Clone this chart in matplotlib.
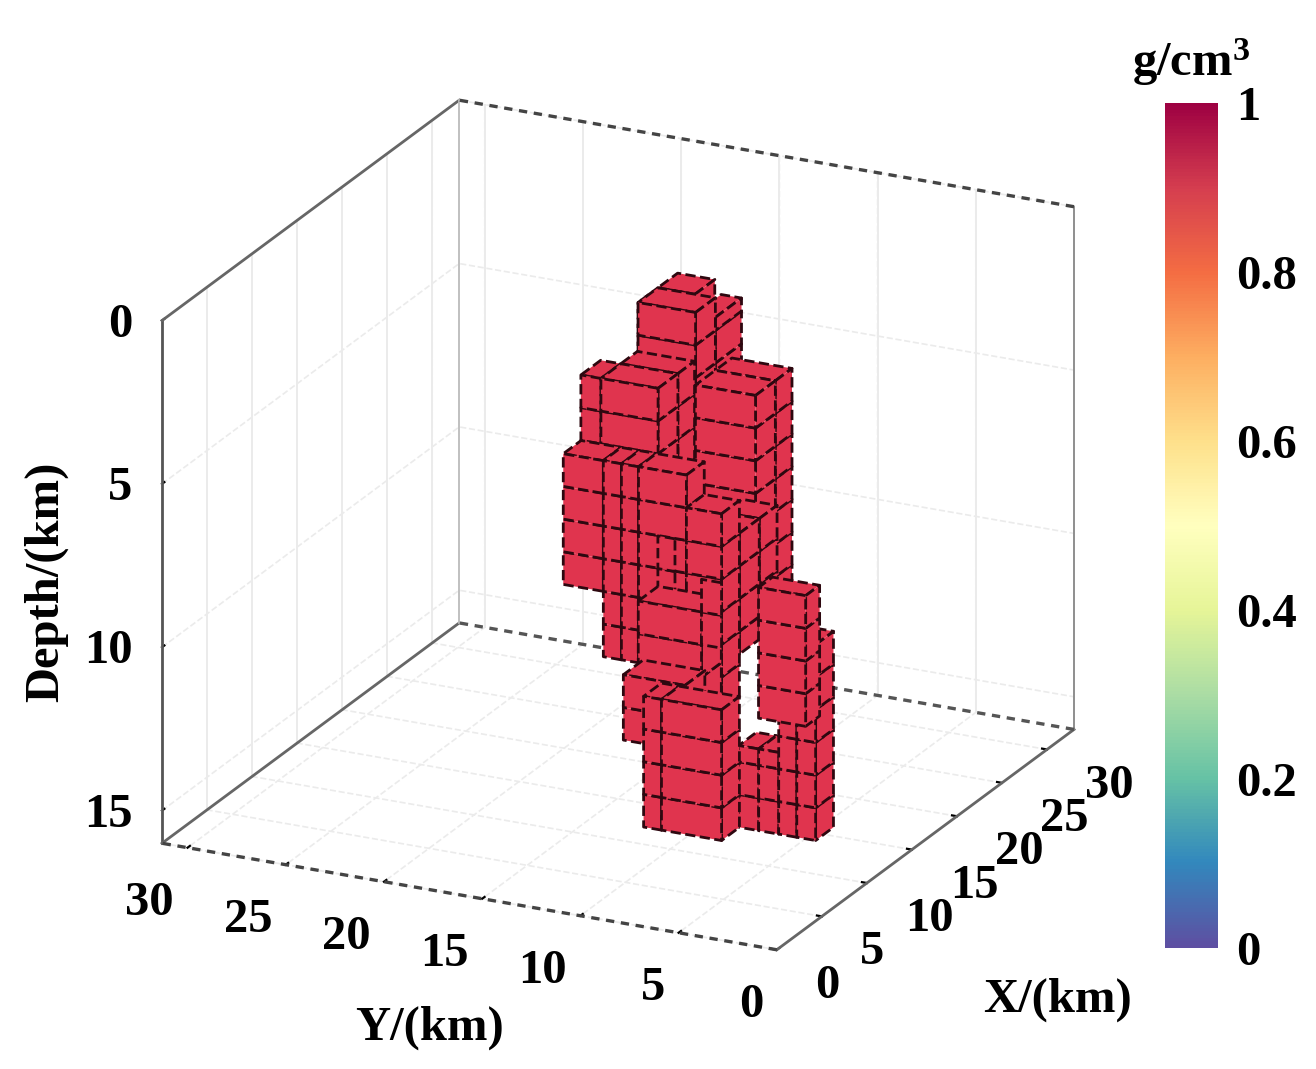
import numpy as np
import matplotlib
matplotlib.use('Agg')
import matplotlib.pyplot as plt
from matplotlib.cm import ScalarMappable
from matplotlib.colors import Normalize
from mpl_toolkits.mplot3d import proj3d
from mpl_toolkits.mplot3d.art3d import Poly3DCollection

plt.rcParams['font.family'] = ['Liberation Serif', 'DejaVu Serif']
plt.rcParams['font.weight'] = 'bold'
plt.rcParams['mathtext.fontset'] = 'custom'
plt.rcParams['mathtext.rm'] = 'Liberation Serif:bold'

x_ticks = [0, 5, 10, 15, 20, 25, 30]
y_ticks = [0, 5, 10, 15, 20, 25, 30]
depth_ticks = [0, 5, 10, 15]
cbar_ticks = [0, 0.2, 0.4, 0.6, 0.8, 1]
cbar_labels = ['0', '0.2', '0.4', '0.6', '0.8', '1']

# bloques del cuerpo, del fondo hacia adelante (orden de dibujo)
block_x0 = [12.2, 14.4, 12.2, 14.1, 14.1, 19.25, 14.08, 14.08, 14.08, 14.08, 16.28, 14.08, 12.1, 12.1, 12.1, 12.1, 12.1, 12.05, 11.66, 11.66, 14.3, 12.1, 12.1, 19.8]
block_x1 = [16.6, 17.3, 14.4, 16.3, 18.15, 23.3, 16.06, 16.06, 16.06, 16.06, 18.26, 16.28, 14.08, 14.08, 14.08, 14.08, 14.08, 12.1, 13.86, 12.3, 16.5, 14.08, 14.08, 21.35]
block_y0 = [10.77, 9.73, 9.73, 15.42, 12.51, 9.91, 7.38, 6.36, 5.44, 4.48, 8.36, 8.36, 14.38, 13.46, 12.59, 10.15, 8.36, 10.71, 9.18, 8.16, 11.23, 11.42, 8.36, 7.61]
block_y1 = [12.66, 10.77, 12.66, 16.44, 15.42, 12.97, 8.4, 7.38, 6.36, 5.44, 10.15, 10.15, 16.42, 14.38, 13.46, 12.59, 10.15, 11.58, 12.4, 9.18, 14.37, 12.33, 11.42, 10.01]
block_top = [0, 0.6, 0, 3, 3, 4, 13.5, 13.5, 10, 10, 7, 7, 5, 5, 5, 5, 6, 7, 9, 8, 12, 12, 12, 10]
block_bot = [4, 4, 4, 7, 7, 11, 16, 16, 16, 16, 10, 10.7, 9, 11, 11, 12, 12, 9, 12, 10, 14, 16, 16, 14]

color_cuerpo = '#E0344E'
color_borde = '#2E0810'


def cortes(a, b, paso):
    # cortes de la grilla dentro de un bloque
    return np.append(np.arange(a, b - 0.5 * paso, paso), b)


def caras_bloque(x0, x1, y0, y1, top, bot):
    # solo las tres caras que se ven desde esta camara
    xs = cortes(x0, x1, 2.2)
    zs = np.append(np.arange(top, np.floor(bot - 0.01) + 0.001, 1.0), bot)
    if top != np.floor(top):
        zs = np.append([top], np.arange(np.ceil(top), bot + 0.001, 1.0))
    caras = []
    for k in range(len(xs) - 1):
        caras.append([(xs[k], y0, top), (xs[k + 1], y0, top), (xs[k + 1], y1, top), (xs[k], y1, top)])
    for j in range(len(zs) - 1):
        caras.append([(x0, y0, zs[j]), (x0, y1, zs[j]), (x0, y1, zs[j + 1]), (x0, y0, zs[j + 1])])
        for k in range(len(xs) - 1):
            caras.append([(xs[k], y0, zs[j]), (xs[k + 1], y0, zs[j]), (xs[k + 1], y0, zs[j + 1]), (xs[k], y0, zs[j + 1])])
    return caras


def etiqueta(ax, x, y, z, texto, ha):
    # texto 2D puesto donde cae el punto 3D
    px, py, _ = proj3d.proj_transform(x, y, z, ax.get_proj())
    ax.text2D(px, py, texto, transform=ax.transData, fontsize=35, ha=ha, va='center')


fig = plt.figure(figsize=(13.16, 10.69), dpi=100)
L = 1000.0
ax = fig.add_axes([104.5 / 1316, 30.5 / 1069, L / 1316, L / 1069], projection='3d', computed_zorder=False)
ax.set_proj_type('ortho')
ax.view_init(elev=21, azim=-154.2)
ax.set_box_aspect((683, 683, 560), zoom=1.0837)
ax.set_xlim(0, 33, view_margin=0)
ax.set_ylim(0, 31.3, view_margin=0)
ax.set_zlim(16, 0, view_margin=0)

ax.set_xticks(x_ticks)
ax.set_yticks(y_ticks)
ax.set_zticks(depth_ticks)
ax.tick_params(axis='both', labelsize=35)
ax.yaxis.set_tick_params(pad=9)
plt.setp(ax.get_yticklabels(), ha='right')
ax.set_xticklabels([])
ax.set_zticklabels([])

# estas etiquetas van a mano, las nativas no quedaban bien alineadas
for t in x_ticks:
    etiqueta(ax, t, -1.95, 16.9, str(t), 'left')
for t in depth_ticks:
    etiqueta(ax, 0, 32.8, t + 0.28, str(t), 'right')

for axis in (ax.xaxis, ax.yaxis, ax.zaxis):
    axis.set_pane_color((1, 1, 1, 0))
    axis.pane.set_edgecolor((1, 1, 1, 0))
    axis.line.set_color((1, 1, 1, 0))
    axis._axinfo['grid'].update(color='#EBEBEB', linewidth=1.2, linestyle='--')
    axis._axinfo['tick'].update(inward_factor=0.0, outward_factor=0.1, color='#333333', linewidth={True: 1.6, False: 1.6})

# marco de la caja
x_a, x_b = ax.get_xlim()
y_a, y_b = ax.get_ylim()
for t in x_ticks:
    ax.plot([t, t], [y_b, y_b], [16, 0], color='#EBEBEB', lw=1.4, zorder=0.5)
for t in y_ticks:
    ax.plot([x_b, x_b], [t, t], [16, 0], color='#EBEBEB', lw=1.4, zorder=0.5)
ax.plot([x_a, x_a], [y_b, y_b], [16, 0], color='#555555', lw=2, zorder=1)
ax.plot([x_a, x_b], [y_b, y_b], [0, 0], color='#666666', lw=2, zorder=1)
ax.plot([x_a, x_b], [y_b, y_b], [16, 16], color='#666666', lw=2, zorder=1)
ax.plot([x_a, x_b], [y_a, y_a], [16, 16], color='#666666', lw=2, zorder=1)
ax.plot([x_b, x_b], [y_a, y_a], [16, 0], color='#888888', lw=1.3, zorder=1)
ax.plot([x_b, x_b], [y_b, y_b], [16, 0], color='#BBBBBB', lw=1.3, zorder=1)
ax.plot([x_b, x_b], [y_a, y_b], [0, 0], color='#444444', lw=2.4, ls=(0, (2.5, 2)), zorder=1)
ax.plot([x_b, x_b], [y_a, y_b], [16, 16], color='#555555', lw=2.4, ls=(0, (2.5, 2)), zorder=1)
ax.plot([x_a, x_a], [y_a, y_b], [16, 16], color='#444444', lw=2.4, ls=(0, (2.5, 2)), zorder=1)

for n in range(len(block_x0)):
    caras = caras_bloque(block_x0[n], block_x1[n], block_y0[n], block_y1[n], block_top[n], block_bot[n])
    ax.add_collection3d(Poly3DCollection(caras, facecolors=color_cuerpo, edgecolors=color_borde,
                                         linewidths=2, linestyles='--', zorder=2 + n))

# colorbar
cax = fig.add_axes([1165 / 1316, (1069 - 948) / 1069, 53 / 1316, 845 / 1069])
cb = fig.colorbar(ScalarMappable(Normalize(0, 1), 'Spectral_r'), cax=cax)
cb.set_ticks(cbar_ticks, labels=cbar_labels)
cb.ax.tick_params(length=0, labelsize=35, pad=13)
cb.outline.set_visible(False)

fig.text(1191 / 1316, 1 - 62 / 1069, r'g/cm$\mathregular{^3}$', fontsize=35, ha='center', va='center')
fig.text(430 / 1316, 1 - 1028 / 1069, 'Y/(km)', fontsize=35, ha='center', va='center')
fig.text(1057 / 1316, 1 - 1000 / 1069, 'X/(km)', fontsize=35, ha='center', va='center')
fig.text(46 / 1316, 1 - 582 / 1069, 'Depth/(km)', fontsize=35, ha='center', va='center', rotation=90)

fig.savefig('out.png', dpi=100)
